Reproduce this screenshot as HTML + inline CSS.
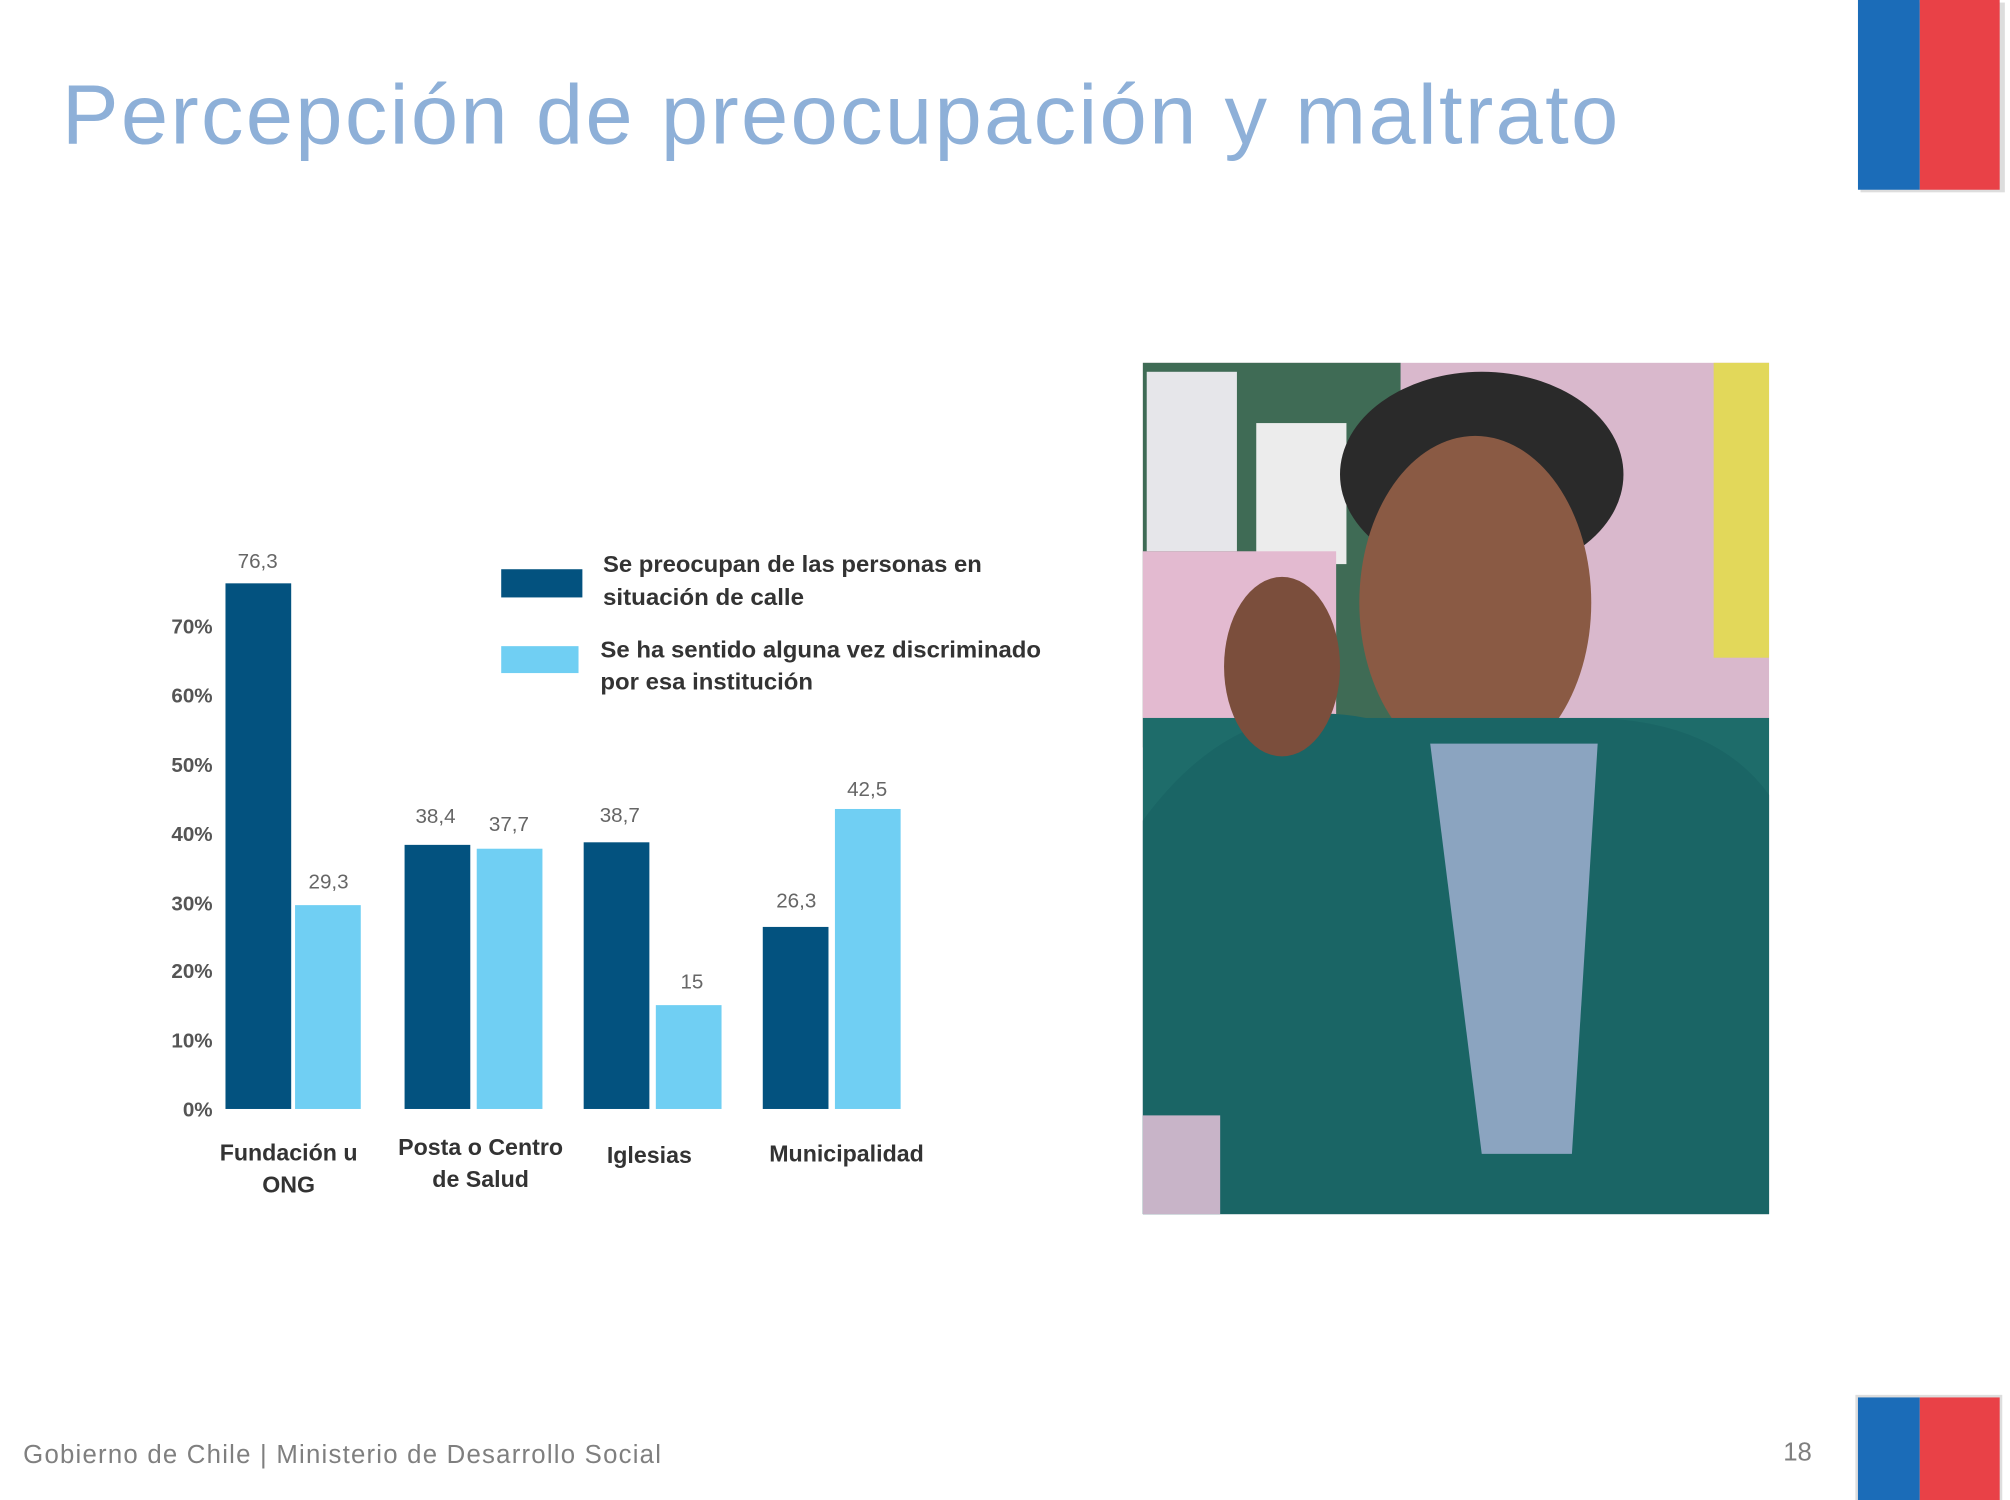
<!DOCTYPE html>
<html><head><meta charset="utf-8"><style>
html,body{margin:0;padding:0;background:#fff;width:2010px;height:1500px;overflow:hidden}
svg{display:block}
text{font-family:"Liberation Sans","DejaVu Sans",sans-serif}
</style></head><body>
<svg width="2010" height="1500" viewBox="0 0 1560 1170" preserveAspectRatio="none" xmlns="http://www.w3.org/2000/svg">
<rect width="1560" height="1170" fill="#fff"/>
<text x="48" y="112" font-size="66" fill="#8eb0d8" textLength="1208" lengthAdjust="spacing">Percepción de preocupación y maltrato</text>
<rect x="1444" y="2" width="112" height="148" fill="#ddd"/>
<rect x="1442" y="0" width="48" height="148" fill="#1b6cb8"/>
<rect x="1490" y="0" width="62" height="148" fill="#e94147"/>
<rect x="1440" y="1088" width="114" height="82" fill="#ddd"/>
<rect x="1442" y="1090" width="48" height="80" fill="#1b6cb8"/>
<rect x="1490" y="1090" width="62" height="80" fill="#e94147"/>
<text x="18" y="1141" font-size="20" fill="#7f7f7f" textLength="495" lengthAdjust="spacing">Gobierno de Chile | Ministerio de Desarrollo Social</text>
<text x="1384" y="1139" font-size="20" fill="#7f7f7f">18</text>
<g font-size="16" fill="#555" text-anchor="end" font-weight="bold">
<text x="165" y="871">0%</text><text x="165" y="817">10%</text><text x="165" y="763">20%</text>
<text x="165" y="710">30%</text><text x="165" y="656">40%</text><text x="165" y="602">50%</text>
<text x="165" y="548">60%</text><text x="165" y="494">70%</text>
</g>
<g fill="#03527f">
<rect x="175" y="455" width="51" height="410"/>
<rect x="314" y="659" width="51" height="206"/>
<rect x="453" y="657" width="51" height="208"/>
<rect x="592" y="723" width="51" height="142"/>
</g>
<g fill="#70cff3">
<rect x="229" y="706" width="51" height="159"/>
<rect x="370" y="662" width="51" height="203"/>
<rect x="509" y="784" width="51" height="81"/>
<rect x="648" y="631" width="51" height="234"/>
</g>
<g font-size="16" fill="#666" text-anchor="middle">
<text x="200" y="443">76,3</text><text x="255" y="693">29,3</text>
<text x="338" y="642">38,4</text><text x="395" y="648">37,7</text>
<text x="481" y="641">38,7</text><text x="537" y="771">15</text>
<text x="618" y="708">26,3</text><text x="673" y="621">42,5</text>
</g>
<g font-size="18" fill="#333" text-anchor="middle" font-weight="bold">
<text x="224" y="905">Fundación u</text><text x="224" y="930">ONG</text>
<text x="373" y="901">Posta o Centro</text><text x="373" y="926">de Salud</text>
<text x="504" y="907">Iglesias</text>
<text x="657" y="906">Municipalidad</text>
</g>
<rect x="389" y="444" width="63" height="22" fill="#03527f"/>
<rect x="389" y="504" width="60" height="21" fill="#70cff3"/>
<g font-size="18" fill="#333" font-weight="bold">
<text x="468" y="446" textLength="294" lengthAdjust="spacingAndGlyphs">Se preocupan de las personas en</text>
<text x="468" y="472" textLength="156" lengthAdjust="spacingAndGlyphs">situación de calle</text>
<text x="466" y="513" textLength="342" lengthAdjust="spacingAndGlyphs">Se ha sentido alguna vez discriminado</text>
<text x="466" y="538" textLength="165" lengthAdjust="spacingAndGlyphs">por esa institución</text>
</g>
<g>
<rect x="887" y="283" width="486" height="664" fill="#d9b8cc"/>
<rect x="887" y="283" width="200" height="300" fill="#3f6b55"/>
<rect x="890" y="290" width="70" height="140" fill="#e6e6ea"/>
<rect x="975" y="330" width="70" height="110" fill="#ececec"/>
<rect x="887" y="430" width="150" height="170" fill="#e3bad0"/>
<rect x="1330" y="283" width="43" height="230" fill="#e2d85a"/>
<ellipse cx="1150" cy="370" rx="110" ry="80" fill="#2a2a2a"/>
<ellipse cx="1145" cy="470" rx="90" ry="130" fill="#8a5a44"/>
<rect x="887" y="560" width="486" height="387" fill="#1e6c6a"/>
<path d="M887 947 L887 640 Q960 540 1060 560 L1230 560 Q1330 560 1373 620 L1373 947 Z" fill="#1a6565"/>
<path d="M1110 580 L1240 580 L1220 900 L1150 900 Z" fill="#8ba4c0"/>
<ellipse cx="995" cy="520" rx="45" ry="70" fill="#7b4e3c"/>
<rect x="887" y="870" width="60" height="77" fill="#c8b4c8"/>
</g>
</svg>
</body></html>
